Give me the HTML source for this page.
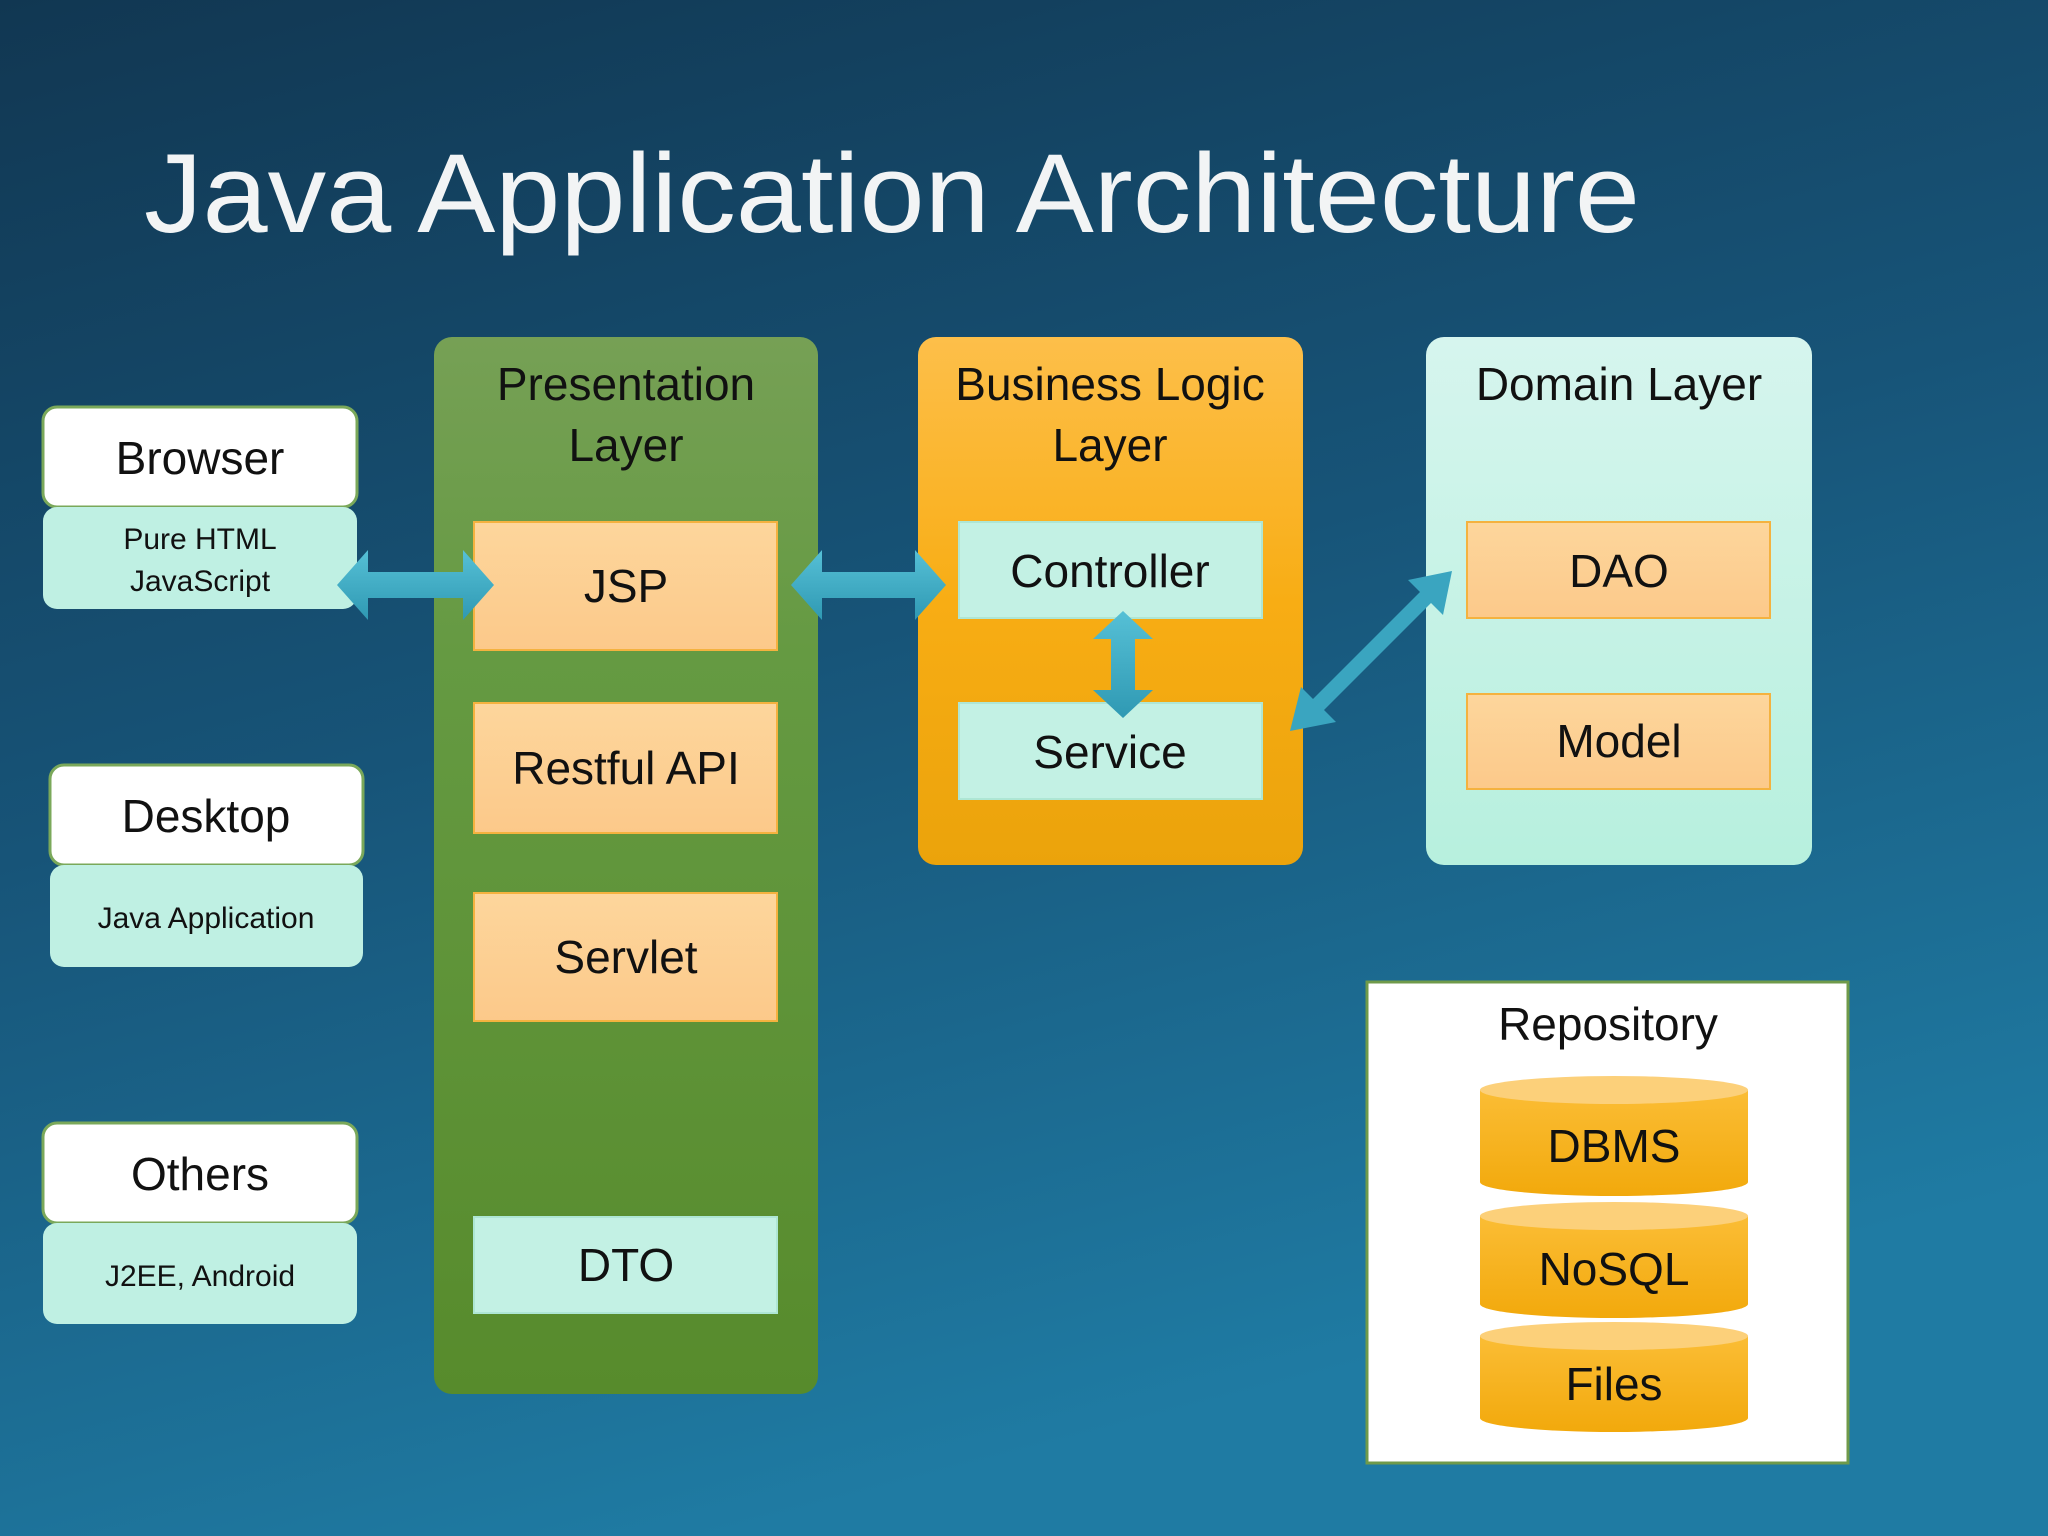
<!DOCTYPE html>
<html><head><meta charset="utf-8"><style>
html,body{margin:0;padding:0;width:2048px;height:1536px;overflow:hidden}
svg{display:block}
text{font-family:"Liberation Sans",sans-serif;fill:#111;text-anchor:middle}
</style></head><body>
<svg width="2048" height="1536" viewBox="0 0 2048 1536" xmlns="http://www.w3.org/2000/svg">
<defs>
<linearGradient id="bg" x1="0" y1="0" x2="0.35" y2="1">
<stop offset="0" stop-color="#113752"/><stop offset="0.5" stop-color="#175478"/><stop offset="1" stop-color="#1f7ba3"/>
</linearGradient>
<linearGradient id="gr" x1="0" y1="0" x2="0" y2="1"><stop offset="0" stop-color="#76a055"/><stop offset="0.3" stop-color="#659a42"/><stop offset="1" stop-color="#578b2c"/></linearGradient>
<linearGradient id="or" x1="0" y1="0" x2="0" y2="1"><stop offset="0" stop-color="#fdbf4a"/><stop offset="0.5" stop-color="#f8ad14"/><stop offset="1" stop-color="#eba30b"/></linearGradient>
<linearGradient id="dm" x1="0" y1="0" x2="0" y2="1"><stop offset="0" stop-color="#d6f5ee"/><stop offset="1" stop-color="#b7f0de"/></linearGradient>
<linearGradient id="pk" x1="0" y1="0" x2="0" y2="1"><stop offset="0" stop-color="#fdd69c"/><stop offset="1" stop-color="#fcc98a"/></linearGradient>
<linearGradient id="cy" x1="0" y1="0" x2="0" y2="1"><stop offset="0" stop-color="#fbbd35"/><stop offset="1" stop-color="#f2a90c"/></linearGradient>
<linearGradient id="ar" x1="0" y1="0" x2="0" y2="1"><stop offset="0" stop-color="#56c0d6"/><stop offset="1" stop-color="#2f99b3"/></linearGradient>
</defs>
<rect width="2048" height="1536" fill="url(#bg)"/>
<text x="892" y="232" style="font-size:112px;fill:#f2f4f5" textLength="1496" lengthAdjust="spacingAndGlyphs">Java Application Architecture</text>

<!-- left clients -->
<g stroke="#7aa85a" stroke-width="3">
<rect x="43" y="407" width="314" height="100" rx="14" fill="#fff"/>
<rect x="50" y="765" width="313" height="100" rx="14" fill="#fff"/>
<rect x="43" y="1123" width="314" height="100" rx="14" fill="#fff"/>
</g>
<g fill="#bff0e3">
<rect x="43" y="507" width="314" height="102" rx="14"/>
<rect x="50" y="865" width="313" height="102" rx="14"/>
<rect x="43" y="1223" width="314" height="101" rx="14"/>
</g>
<g style="font-size:46px">
<text x="200" y="474">Browser</text>
<text x="206" y="832">Desktop</text>
<text x="200" y="1190">Others</text>
</g>
<g style="font-size:30px">
<text x="200" y="549">Pure HTML</text>
<text x="200" y="591">JavaScript</text>
<text x="206" y="928">Java Application</text>
<text x="200" y="1286">J2EE, Android</text>
</g>

<!-- panels -->
<rect x="434" y="337" width="384" height="1057" rx="18" fill="url(#gr)"/>
<rect x="918" y="337" width="385" height="528" rx="18" fill="url(#or)"/>
<rect x="1426" y="337" width="386" height="528" rx="18" fill="url(#dm)"/>
<g style="font-size:46px">
<text x="626" y="400">Presentation</text>
<text x="626" y="461">Layer</text>
<text x="1110" y="400">Business Logic</text>
<text x="1110" y="461">Layer</text>
<text x="1619" y="400">Domain Layer</text>
</g>

<g stroke="#f4b23f" stroke-width="2" fill="url(#pk)">
<rect x="474" y="522" width="303" height="128"/>
<rect x="474" y="703" width="303" height="130"/>
<rect x="474" y="893" width="303" height="128"/>
<rect x="1467" y="522" width="303" height="96"/>
<rect x="1467" y="694" width="303" height="95"/>
</g>
<g fill="#c3f1e4" stroke="#aee6d4" stroke-width="2">
<rect x="474" y="1217" width="303" height="96"/>
<rect x="959" y="522" width="303" height="96"/>
<rect x="959" y="703" width="303" height="96"/>
</g>
<g style="font-size:46px">
<text x="626" y="602">JSP</text>
<text x="626" y="784">Restful API</text>
<text x="626" y="973">Servlet</text>
<text x="626" y="1281">DTO</text>
<text x="1110" y="587">Controller</text>
<text x="1110" y="768">Service</text>
<text x="1619" y="587">DAO</text>
<text x="1619" y="757">Model</text>
</g>

<!-- arrows -->
<g fill="url(#ar)">
<polygon points="337,585 368,550 368,572 463,572 463,550 494,585 463,620 463,598 368,598 368,620"/>
<polygon points="791,585 822,550 822,572 915,572 915,550 946,585 915,620 915,598 822,598 822,620"/>
<polygon points="1123,611 1153,639 1135,639 1135,690 1153,690 1123,718 1093,690 1111,690 1111,639 1093,639"/>
</g>
<polygon fill="#3aa5c0" points="1290,731 1301,687 1313,699 1420,592 1408,580 1452,571 1443,615 1431,603 1324,710 1336,722"/>

<!-- repository -->
<rect x="1367" y="982" width="481" height="481" fill="#fff" stroke="#6f9a4a" stroke-width="3"/>
<text x="1608" y="1040" style="font-size:46px">Repository</text>
<g>
<path d="M1480,1090 v92 a134,14 0 0 0 268,0 v-92 z" fill="url(#cy)"/>
<ellipse cx="1614" cy="1090" rx="134" ry="14" fill="#fcd07a"/>
<path d="M1480,1216 v88 a134,14 0 0 0 268,0 v-88 z" fill="url(#cy)"/>
<ellipse cx="1614" cy="1216" rx="134" ry="14" fill="#fcd07a"/>
<path d="M1480,1336 v82 a134,14 0 0 0 268,0 v-82 z" fill="url(#cy)"/>
<ellipse cx="1614" cy="1336" rx="134" ry="14" fill="#fcd07a"/>
</g>
<g style="font-size:46px">
<text x="1614" y="1162">DBMS</text>
<text x="1614" y="1285">NoSQL</text>
<text x="1614" y="1400">Files</text>
</g>
</svg>
</body></html>
